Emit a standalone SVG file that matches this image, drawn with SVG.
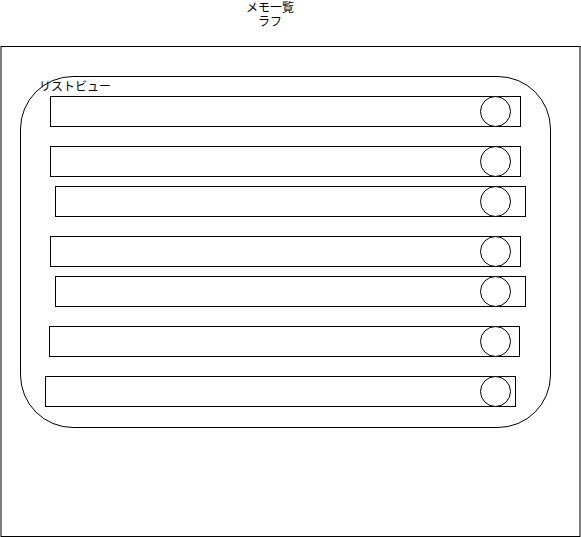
<svg xmlns="http://www.w3.org/2000/svg" width="581" height="537" viewBox="0 0 581 537">
<style>
.s{fill:#fff;stroke:#000;stroke-width:1}
.t{font-family:"Noto Sans CJK JP","Liberation Sans",sans-serif;font-size:12px;fill:#000}
</style>
<rect width="581" height="537" fill="#fff"/>
<g id="title"><text class="t" x="270" y="12" text-anchor="middle">メモ一覧</text><text class="t" x="270" y="26" text-anchor="middle">ラフ</text></g>
<g id="screen"><rect class="s" x="1" y="46.5" width="579" height="490"/></g>
<g id="listview"><rect class="s" x="20.5" y="76.5" width="530" height="351" rx="52.6"/><text class="t" x="39" y="91">リストビュー</text></g>
<g id="row1"><rect class="s" x="50.5" y="96.5" width="470" height="30"/><circle class="s" cx="495.5" cy="111.5" r="15"/></g>
<g id="row2"><rect class="s" x="50.5" y="146.5" width="470" height="30"/><circle class="s" cx="495.5" cy="161.5" r="15"/></g>
<g id="row3"><rect class="s" x="55.5" y="186.5" width="470" height="30"/><circle class="s" cx="495.5" cy="201.5" r="15"/></g>
<g id="row4"><rect class="s" x="50.5" y="236.5" width="470" height="30"/><circle class="s" cx="495.5" cy="251.5" r="15"/></g>
<g id="row5"><rect class="s" x="55.5" y="276.5" width="470" height="30"/><circle class="s" cx="495.5" cy="291.5" r="15"/></g>
<g id="row6"><rect class="s" x="49.5" y="326.5" width="470" height="30"/><circle class="s" cx="495.5" cy="341.5" r="15"/></g>
<g id="row7"><rect class="s" x="45.5" y="376.5" width="470" height="30"/><circle class="s" cx="495.5" cy="391.5" r="15"/></g>
<g id="connectors"/>
</svg>
